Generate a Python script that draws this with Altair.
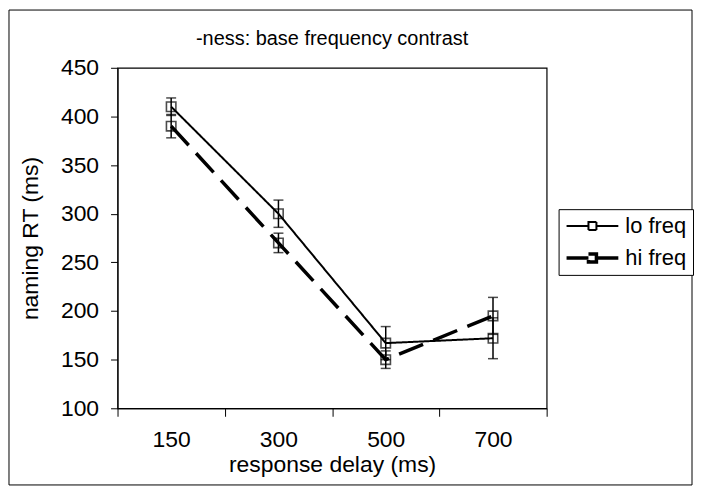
import altair as alt
import pandas as pd

delays = ["150", "300", "500", "700"]
lo_freq = [410, 300, 167, 172]
lo_err = [9, 14, 17, 21]
hi_freq = [390, 270, 150, 195]
hi_err = [12, 10, 9, 19]
series = ["lo freq", "hi freq"]
title_text = "-ness: base frequency contrast"

rows = []
for s, vals, errs in [(series[0], lo_freq, lo_err), (series[1], hi_freq, hi_err)]:
    for d, v, e in zip(delays, vals, errs):
        rows.append({"delay": d, "rt": v, "low": v - e, "high": v + e, "series": s})
df = pd.DataFrame(rows)

FONT = "Liberation Sans"
W, H = 431, 342
AX = 23

x = alt.X("delay:O", sort=delays, title="response delay (ms)",
          scale=alt.Scale(paddingInner=0, paddingOuter=0),
          axis=alt.Axis(labelAngle=0, tickBand="extent", tickSize=8, tickColor="black",
                        domainColor="black", labelFontSize=AX, titleFontSize=AX,
                        labelPadding=12, titlePadding=2, labelColor="black", titleColor="black",
                        titleFontWeight="normal", labelFont=FONT, titleFont=FONT))
y = alt.Y("rt:Q", title="naming RT (ms)",
          scale=alt.Scale(domain=[100, 450], nice=False, zero=False),
          axis=alt.Axis(values=[100, 150, 200, 250, 300, 350, 400, 450], tickSize=7,
                        tickColor="black", domainColor="black", labelFontSize=AX,
                        titleFontSize=AX, labelPadding=12, titlePadding=18, grid=False,
                        labelColor="black", titleColor="black", titleFontWeight="normal",
                        labelFont=FONT, titleFont=FONT))

legend_path = ("M-1,0 L1.2,0 M1.2,-0.4 L2,-0.4 L2,0.4 L1.2,0.4 Z "
               "M2,0 L4.2,0")

base = alt.Chart(df)
xo = alt.X("delay:O", sort=delays)

lines = base.mark_line(color="black").encode(
    x=x, y=y,
    strokeDash=alt.StrokeDash("series:N", scale=alt.Scale(domain=series, range=[[1, 0], [26, 11]]),
                              legend=alt.Legend(title=None, orient="none", legendX=443, legendY=142,
                                                symbolType=legend_path, symbolSize=400,
                                                symbolStrokeColor="black", labelFontSize=22,
                                                labelFont=FONT, labelColor="black",
                                                strokeColor="black", padding=6, rowPadding=9,
                                                labelOffset=37, fillColor="white")),
    strokeWidth=alt.StrokeWidth("series:N", scale=alt.Scale(domain=series, range=[2, 3.5]),
                                legend=None),
)

err_rule = base.mark_rule(color="black", strokeWidth=1.5).encode(
    x=xo, y=alt.Y("low:Q"), y2="high:Q"
)
cap_low = base.mark_tick(color="black", thickness=1.5, size=10).encode(x=xo, y="low:Q")
cap_high = base.mark_tick(color="black", thickness=1.5, size=10).encode(x=xo, y="high:Q")

pts = base.mark_point(shape="square", size=90, filled=False, color="black", strokeWidth=1.6).encode(
    x=xo, y="rt:Q"
)

deco = alt.Chart(pd.DataFrame({"t": [title_text]}))
frame = deco.mark_rect(fill=None, stroke="black", strokeWidth=1).encode(
    x=alt.value(-109), x2=alt.value(577), y=alt.value(-58), y2=alt.value(419)
)
title = deco.mark_text(fontSize=20, font=FONT, color="black", baseline="alphabetic").encode(
    text="t:N", x=alt.value(W / 2), y=alt.value(-23)
)

chart = alt.layer(frame, title, lines, err_rule, cap_low, cap_high, pts).properties(
    width=W, height=H, padding=0,
).configure_view(stroke="black", strokeWidth=1.2)

chart.save("out.html", embed_options={"renderer": "svg", "actions": False})
